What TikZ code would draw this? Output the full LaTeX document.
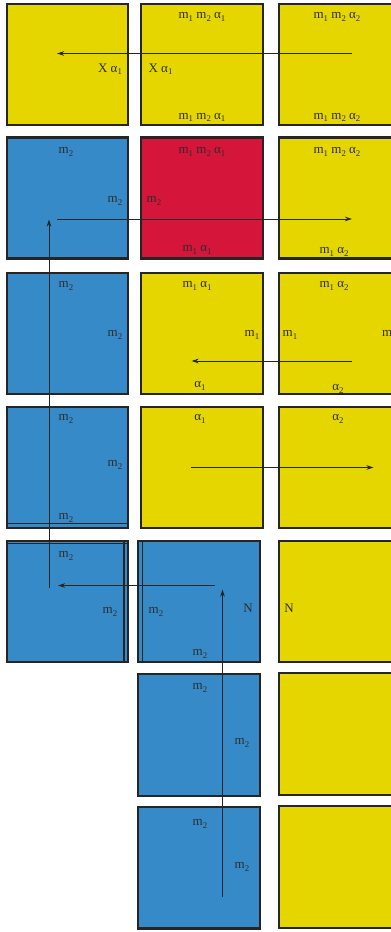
\documentclass[tikz,border=0pt]{standalone}
\usepackage{fontspec}
\setmainfont{Liberation Serif}
\usetikzlibrary{arrows.meta}
\definecolor{yel}{RGB}{229,214,0}
\definecolor{blu}{RGB}{55,138,200}
\definecolor{redd}{RGB}{213,21,58}
\definecolor{edge}{RGB}{37,37,37}
\definecolor{txt}{RGB}{45,45,45}
\newcommand\lsub[1]{\raisebox{-0.22em}{\fontsize{8.8}{8.8}\selectfont #1}}
\newcommand\Ma{m\lsub{1}}
\newcommand\Mb{m\lsub{2}}
\newcommand\Aa{α\lsub{1}}
\newcommand\Ab{α\lsub{2}}
\begin{document}
\begin{tikzpicture}[x=1pt,y=-1pt,
  sq/.style={draw=edge,line width=2.5pt,minimum width=121pt,minimum height=121pt,inner sep=0pt,outer sep=0pt},
  lbl/.style={inner sep=0pt,anchor=base,text=txt,font=\fontsize{13}{13}\selectfont},
  arr/.style={draw=edge,line width=0.9pt,-{Stealth[length=7pt,width=4.5pt]}},
  inner/.style={draw=edge,line width=1.6pt}]
\path[use as bounding box] (0,0) rectangle (391,932);
\clip (0,0) rectangle (391,932);
% squares
\node[sq,fill=yel] (s11) at (67.5,64.25) {};
\node[sq,fill=yel,minimum width=122pt] (s12) at (202,64.25) {};
\node[sq,fill=yel] (s13) at (339.5,64.25) {};
\node[sq,fill=blu] (s21) at (67.5,198) {};
\node[sq,fill=redd,minimum width=122pt] (s22) at (202,198) {};
\node[sq,fill=yel] (s23) at (339.5,198) {};
\node[sq,fill=blu] (s31) at (67.5,333.5) {};
\node[sq,fill=yel,minimum width=122pt] (s32) at (202,333.5) {};
\node[sq,fill=yel] (s33) at (339.5,333.5) {};
\node[sq,fill=blu] (s41) at (67.5,467.25) {};
\node[sq,fill=yel,minimum width=122pt] (s42) at (202,467.5) {};
\node[sq,fill=yel] (s43) at (339.5,467.5) {};
\node[sq,fill=blu] (s51) at (67.5,601.5) {};
\node[sq,fill=blu,minimum width=122pt] (s52) at (199,601.5) {};
\node[sq,fill=yel] (s53) at (339.5,601.5) {};
\node[sq,fill=blu,minimum width=122pt,minimum height=122pt] (s62) at (199,735) {};
\node[sq,fill=yel,minimum height=122pt] (s63) at (339.5,734) {};
\node[sq,fill=blu,minimum width=122pt,minimum height=121.5pt] (s72) at (199,867.75) {};
\node[sq,fill=yel,minimum height=122pt] (s73) at (339.5,866.75) {};
% inner double lines
\draw[inner] (7,523.5) -- (128,523.5);
\draw[inner] (7,543.5) -- (128,543.5);
\draw[inner] (124,541) -- (124,662);
\draw[inner] (142.5,541) -- (142.5,662);
% arrow end points
\coordinate (a1s) at (352,53.5);   \coordinate (a1e) at (57,53.5);
\coordinate (a2s) at (57,219);     \coordinate (a2e) at (352,219);
\coordinate (a3s) at (49,588);     \coordinate (a3e) at (49,219.5);
\coordinate (a4s) at (352,361);    \coordinate (a4e) at (191.5,361);
\coordinate (a5s) at (191,467.5);  \coordinate (a5e) at (373.5,467.5);
\coordinate (a6s) at (215,585.5);  \coordinate (a6e) at (58,585.5);
\coordinate (a7s) at (222.5,897);  \coordinate (a7e) at (222.5,589.5);
\draw[arr] (a1s) -- (a1e);
\draw[arr] (a2s) -- (a2e);
\draw[arr] (a3s) -- (a3e);
\draw[arr] (a4s) -- (a4e);
\draw[arr] (a5s) -- (a5e);
\draw[arr] (a6s) -- (a6e);
\draw[arr] (a7s) -- (a7e);
% labels row 1
\node[lbl] (t1a) at (110,72) {X \Aa};
\node[lbl] (t1b) at (160.5,72) {X \Aa};
\node[lbl] (t1c) at (202,18.5) {\Ma\ \Mb\ \Aa};
\node[lbl] (t1d) at (202,119) {\Ma\ \Mb\ \Aa};
\node[lbl] (t1e) at (337,18.5) {\Ma\ \Mb\ \Ab};
\node[lbl] (t1f) at (337,119) {\Ma\ \Mb\ \Ab};
% row 2
\node[lbl] (t2a) at (66,153.5) {\Mb};
\node[lbl] (t2b) at (115,202.5) {\Mb};
\node[lbl] (t2c) at (202,153.5) {\Ma\ \Mb\ \Aa};
\node[lbl] (t2d) at (154,202.5) {\Mb};
\node[lbl] (t2e) at (197,251.5) {\Ma\ \Aa};
\node[lbl] (t2f) at (337,153.5) {\Ma\ \Mb\ \Ab};
\node[lbl] (t2g) at (334,253.5) {\Ma\ \Ab};
% row 3
\node[lbl] (t3a) at (66,287.5) {\Mb};
\node[lbl] (t3b) at (115,336.5) {\Mb};
\node[lbl] (t3c) at (197,287.5) {\Ma\ \Aa};
\node[lbl] (t3d) at (252,336.5) {\Ma};
\node[lbl] (t3e) at (200,387.5) {\Aa};
\node[lbl] (t3f) at (334,287.5) {\Ma\ \Ab};
\node[lbl] (t3g) at (290,336.5) {\Ma};
\node[lbl,anchor=base west] (t3h) at (382,336.5) {\Ma};
\node[lbl] (t3i) at (338,390.5) {\Ab};
% row 4
\node[lbl] (t4a) at (66,420.5) {\Mb};
\node[lbl] (t4b) at (115,466.5) {\Mb};
\node[lbl] (t4c) at (66,519.5) {\Mb};
\node[lbl] (t4d) at (200,420.5) {\Aa};
\node[lbl] (t4e) at (338,420.5) {\Ab};
% row 5
\node[lbl] (t5a) at (66,557.5) {\Mb};
\node[lbl] (t5b) at (110,613.5) {\Mb};
\node[lbl] (t5c) at (156,613.5) {\Mb};
\node[lbl] (t5d) at (248,612) {N};
\node[lbl] (t5e) at (200,655.5) {\Mb};
\node[lbl] (t5f) at (289,612) {N};
% rows 6, 7
\node[lbl] (t6a) at (200,689.5) {\Mb};
\node[lbl] (t6b) at (242,744.5) {\Mb};
\node[lbl] (t7a) at (200,825.5) {\Mb};
\node[lbl] (t7b) at (242,868.5) {\Mb};
\end{tikzpicture}
\end{document}
